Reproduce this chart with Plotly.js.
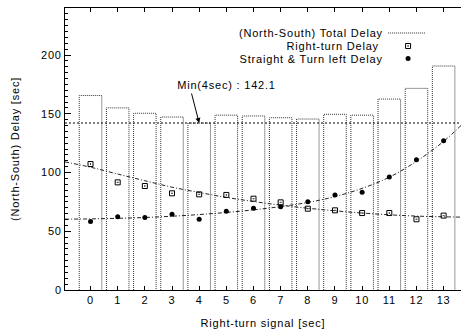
<!DOCTYPE html>
<html><head><meta charset="utf-8">
<script src="https://cdn.plot.ly/plotly-3.0.1.min.js"></script>
<style>html,body{margin:0;padding:0;background:#fff;overflow:hidden}
#chart text{letter-spacing:0.8px}</style>
</head><body><div id="chart" style="width:461px;height:334px"></div>
<script>
// ---- data ----
const signalSec = [0,1,2,3,4,5,6,7,8,9,10,11,12,13];
const totalDelay = [165.5,155,150.4,147.2,142.1,148.8,148.1,146.6,145.5,149.5,148.8,162.5,171.6,190.6];
const rightTurnDelay = [107.2,91.6,88.5,82.3,81.4,80.9,77.7,74.6,69.2,67.8,65.5,65.5,60.2,63.3];
const straightDelay = [58.2,62.4,61.6,64.4,60.2,67.0,69.5,70.9,75.2,80.9,83.1,96.2,110.9,127.1];
// fitted trend curves
const fitX = [-0.94,0,1,2,3,4,5,6,7,8,9,10,11,12,13,13.64];
const rightTurnFit = [109,104.5,98.7,93,87.5,83,78.8,75.3,72.2,69.6,67.4,65.5,64,62.9,62.3,62];
const straightFit = [60.3,60.5,61,61.7,62.8,64.2,66,68.2,71,74.5,79.5,86.5,96,109.5,126.5,140];
const legendLabels = ['(North-South) Total Delay','Right-turn Delay','Straight & Turn left Delay'];
const yTickVals = [0,50,100,150,200];

// ---- derived ----
const barHalf = 0.415;
const barX = [], barY = [];
signalSec.forEach((s,i)=>{
  barX.push(s-barHalf, s-barHalf, s+barHalf, s+barHalf, null);
  barY.push(0, totalDelay[i], totalDelay[i], 0, null);
});
const minTotal = Math.min(...totalDelay);
const minIdx = totalDelay.indexOf(minTotal);

const F = 'Liberation Sans, Arial, sans-serif';
const dashDot = '4px,2px,1px,2px';

const traces = [
  {x:barX, y:barY, mode:'lines', line:{color:'#333', width:1, dash:'1px,1px'}, hoverinfo:'skip', showlegend:false},
  {x:fitX, y:rightTurnFit, mode:'lines', line:{color:'#222', width:1, dash:dashDot, shape:'spline'}, showlegend:false},
  {x:fitX, y:straightFit, mode:'lines', line:{color:'#222', width:1, dash:dashDot, shape:'spline'}, showlegend:false},
  {x:signalSec, y:rightTurnDelay, mode:'markers', marker:{symbol:'square-open-dot', size:5, color:'#000', line:{width:1, color:'#000'}}, showlegend:false},
  {x:signalSec, y:straightDelay, mode:'markers', marker:{symbol:'circle', size:5, color:'#000'}, showlegend:false},
  // legend samples (pixel helper axes)
  {x:[388,425], y:[33,33], xaxis:'x2', yaxis:'y2', mode:'lines', line:{color:'#333', width:1, dash:'1px,1px'}, showlegend:false, hoverinfo:'skip'},
  {x:[408], y:[46], xaxis:'x2', yaxis:'y2', mode:'markers', marker:{symbol:'square-open-dot', size:5, color:'#000', line:{width:1,color:'#000'}}, showlegend:false, hoverinfo:'skip'},
  {x:[408], y:[58.5], xaxis:'x2', yaxis:'y2', mode:'markers', marker:{symbol:'circle', size:5, color:'#000'}, showlegend:false, hoverinfo:'skip'}
];

const legendY = [33, 45.5, 58.5];
const annotations = legendLabels.map((t,i)=>({
  xref:'x2', yref:'y2', x:375, y:legendY[i], xanchor:'right', yanchor:'middle',
  text:t, showarrow:false, font:{family:F, size:11, color:'#000'}
}));
annotations.push({xref:'x', yref:'y', x:signalSec[minIdx], y:minTotal, text:'', showarrow:true,
  ax:-8, ay:-31, arrowhead:2, arrowsize:1, arrowwidth:1, arrowcolor:'#000'});
annotations.push({xref:'x2', yref:'y2', x:226, y:85, xanchor:'center', yanchor:'middle', showarrow:false,
  text:'Min(' + signalSec[minIdx] + 'sec) : ' + minTotal.toFixed(1), font:{family:F, size:11, color:'#000'}});

const layout = {
  width:461, height:334,
  margin:{l:64.5, r:0, t:8, b:44},
  paper_bgcolor:'#fff', plot_bgcolor:'#fff',
  font:{family:F, size:11, color:'#000'},
  showlegend:false,
  xaxis:{range:[-0.94,13.64], tickvals:signalSec, ticks:'inside', ticklen:4, tickcolor:'#000',
    showline:true, linecolor:'#000', linewidth:1, mirror:'ticks', showgrid:false, zeroline:false,
    title:{text:'Right-turn signal [sec]', font:{family:F, size:11}, standoff:14}},
  yaxis:{range:[0,240], tickvals:yTickVals, ticks:'inside', ticklen:6, tickcolor:'#000',
    minor:{tickmode:'linear', tick0:0, dtick:5, ticks:'inside', ticklen:3, tickcolor:'#000', showgrid:false},
    showline:true, linecolor:'#000', linewidth:1, showgrid:false, zeroline:false,
    title:{text:'(North-South) Delay [sec]', font:{family:F, size:11}, standoff:21}},
  xaxis2:{overlaying:'x', range:[64.5,461], visible:false, fixedrange:true},
  yaxis2:{overlaying:'y', range:[290,8], visible:false, fixedrange:true},
  shapes:[{type:'line', xref:'paper', x0:0, x1:1, yref:'y', y0:minTotal, y1:minTotal,
    line:{color:'#000', width:1, dash:'2px,2px'}}],
  annotations:annotations
};
Plotly.newPlot('chart', traces, layout, {displayModeBar:false, staticPlot:true});
</script></body></html>
